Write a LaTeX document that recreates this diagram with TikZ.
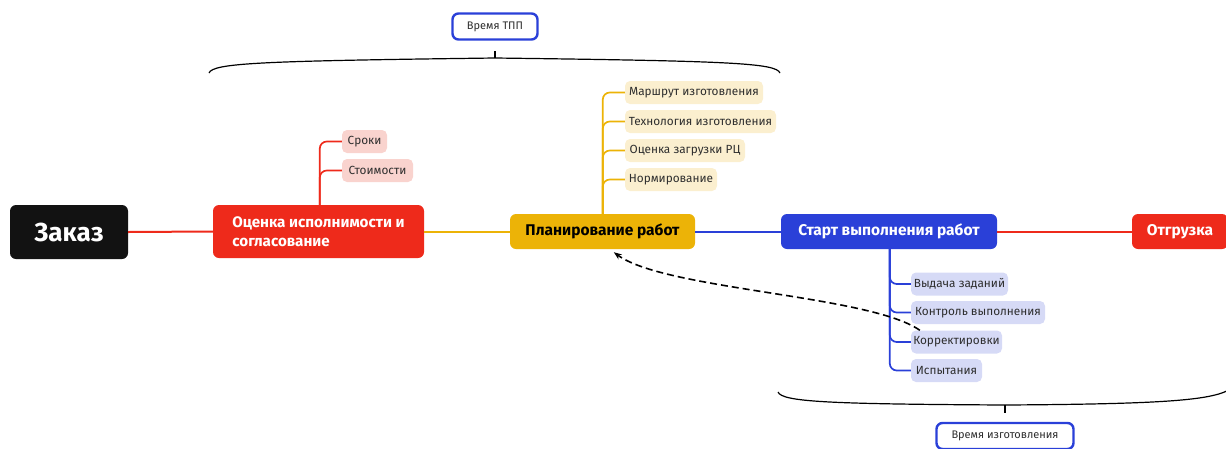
\documentclass[tikz,border=0pt]{standalone}
\usepackage{fontspec}
\setmainfont{Fira Sans}
\usetikzlibrary{arrows.meta}
\definecolor{cred}{HTML}{EE2A1B}
\definecolor{cyellow}{HTML}{ECB307}
\definecolor{cblue}{HTML}{2A40D8}
\definecolor{cblack}{HTML}{121212}
\definecolor{lred}{HTML}{F9D3CE}
\definecolor{lyellow}{HTML}{FBEFCF}
\definecolor{lblue}{HTML}{D6DAF6}
\definecolor{ctext}{HTML}{2E2E2E}
\begin{document}
\begin{tikzpicture}[x=1pt,y=-1pt,
  mainbox/.style={rounded corners=6pt, minimum height=35pt, inner sep=0pt, font=\bfseries\fontsize{15.5}{18}\selectfont},
  childbox/.style={rounded corners=5pt, minimum height=23pt, inner sep=0pt, font=\fontsize{11.8}{13}\selectfont, text=ctext},
  mainline/.style={line width=2pt},
  childline/.style={line width=1.7pt, rounded corners=7pt},
  labelbox/.style={draw=cblue, line width=2.4pt, rounded corners=6pt, fill=white, minimum height=26pt, inner sep=0pt, font=\fontsize{11}{13}\selectfont, text=ctext},
  bracepath/.style={line width=1.2pt, black}]
\useasboundingbox (0,0) rectangle (1226,448);

% main nodes
\node[mainbox, fill=cblack, text=white, minimum width=118pt, minimum height=54pt, font=\bfseries\fontsize{26}{28}\selectfont] (zakaz) at (69,232) {Заказ};
\node[mainbox, fill=cred, text=white, minimum width=211pt, minimum height=53pt, align=left, font=\bfseries\fontsize{15.2}{19.5}\selectfont] (ocenka) at (318.5,231.5) {Оценка исполнимости и\\согласование};
\node[mainbox, fill=cyellow, text=black, minimum width=185pt] (plan) at (602.5,231.5) {Планирование работ};
\node[mainbox, fill=cblue, text=white, minimum width=216pt] (start) at (889,231.5) {Старт выполнения работ};
\node[mainbox, fill=cred, text=white, minimum width=96pt] (otgr) at (1180,231.5) {Отгрузка};

% main connectors
\draw[mainline, cred] (zakaz.east) -- (ocenka.west);
\draw[mainline, cyellow] (ocenka.east) -- (plan.west);
\draw[mainline, cblue] (plan.east) -- (start.west);
\draw[mainline, cred] (start.east) -- (otgr.west);

% children of ocenka
\node[childbox, fill=lred, minimum width=45pt] (sroki) at (364.5,141.5) {Сроки};
\node[childbox, fill=lred, minimum width=71pt] (stoim) at (377.5,170.5) {Стоимости};
\draw[childline, cred] ([xshift=107pt]ocenka.north west) |- (sroki.west);
\draw[childline, cred] ([xshift=107pt]ocenka.north west) |- (stoim.west);

% children of plan
\node[childbox, fill=lyellow, minimum width=138pt] (marsh) at (694,92.5) {Маршрут изготовления};
\node[childbox, fill=lyellow, minimum width=151pt] (tech) at (700.5,121.5) {Технология изготовления};
\node[childbox, fill=lyellow, minimum width=120pt] (ozrc) at (685,150.5) {Оценка загрузки РЦ};
\node[childbox, fill=lyellow, minimum width=92pt] (norm) at (671,179.5) {Нормирование};
\foreach \c in {marsh,tech,ozrc,norm}
  \draw[childline, cyellow] ([xshift=93pt]plan.north west) |- (\c.west);

% children of start
\node[childbox, fill=lblue, minimum width=97pt] (vyd) at (959.5,284) {Выдача заданий};
\node[childbox, fill=lblue, minimum width=134pt] (kontr) at (978,312.5) {Контроль выполнения};
\node[childbox, fill=lblue, minimum width=91pt] (korr) at (956.5,342) {Корректировки};
\node[childbox, fill=lblue, minimum width=71pt] (isp) at (946.5,370.5) {Испытания};
\foreach \c in {vyd,kontr,korr,isp}
  \draw[childline, cblue] ([xshift=109pt]start.south west) |- (\c.west);

% dashed feedback
\draw[line width=1.6pt, dash pattern=on 7pt off 4pt, -{Stealth[length=8pt,width=6pt]}]
  ([xshift=9pt]korr.north west) .. controls (870,295) and (665,290) .. ([xshift=104pt,yshift=-3pt]plan.south west);

% top brace
\node[labelbox, minimum width=85pt] (tpp) at (495,26.5) {Время ТПП};
\coordinate (tppmid) at (495,58);
\coordinate (tppl) at (209,73);
\coordinate (tppr) at (780,73);
\draw[bracepath] (tppl) .. controls (213,63) and (260,61) .. (tppmid) .. controls (730,61) and (776,63) .. (tppr);
\draw[bracepath] (tppmid) -- ++(0,-7);

% bottom brace
\node[labelbox, minimum width=137pt] (izg) at (1005,436) {Время изготовления};
\coordinate (izgmid) at (1005,405);
\coordinate (izgl) at (778,392);
\coordinate (izgr) at (1232,388);
\draw[bracepath] (izgl) .. controls (782,402) and (830,404) .. (izgmid) .. controls (1170,404) and (1215,400) .. (izgr);
\draw[bracepath] (izgmid) -- ++(0,8);
\end{tikzpicture}
\end{document}
